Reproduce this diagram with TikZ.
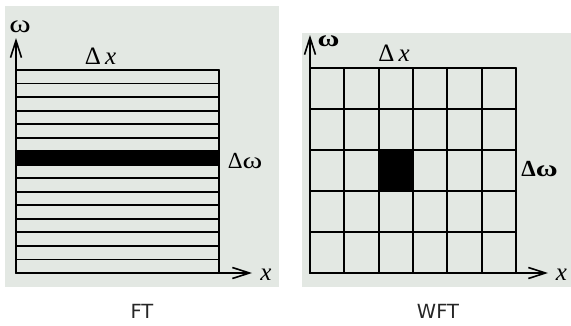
\documentclass[tikz,border=0pt]{standalone}
\usepackage{fontspec}
\setmainfont{Liberation Serif}
\newfontfamily\capfont{DejaVu Sans}
\usetikzlibrary{arrows.meta}
\definecolor{panelgray}{RGB}{227,232,227}
\newcommand\wideomega{\scalebox{1.3}[1]{ω}}
\begin{document}
\begin{tikzpicture}[x=1pt,y=-1pt,line cap=round,line join=round,font=\fontsize{23}{25}\selectfont,
	axis/.style={line width=1.6pt,-{Straight Barb[length=17pt,width=11pt]}},
	gridline/.style={line width=1.9pt},
	lbl/.style={anchor=base,inner sep=0pt},
	biglbl/.style={lbl,font=\fontsize{25}{27}\selectfont},
	caption/.style={anchor=base,inner sep=0pt,text=black!85,font=\capfont\fontsize{19.5}{21}\selectfont}]
	\useasboundingbox (0,0) rectangle (571,325);
	% panels
	\fill[panelgray] (5,6) rectangle (279,287);
	\fill[panelgray] (302,33) rectangle (571,287);
	% FT: strips
	\def\h{203/15}
	\fill (16,{70+6*\h}) rectangle (219,{70+7*\h});
	\foreach \i in{0,...,15}{\draw[gridline] (16,{70+\i*\h}) -- (219,{70+\i*\h});}
	\draw[gridline] (219,70) -- (219,273);
	\coordinate (fto) at (16,273);
	\coordinate (ftw) at (16,38);
	\coordinate (ftx) at (252,273);
	\draw[axis] (fto) -- (ftw);
	\draw[axis] (fto) -- (ftx);
	\node[biglbl] (ftwlbl) at (20,32) {\wideomega};
	\node[biglbl] (ftdx) at (100.5,64) {Δ\,\textit{x}};
	\node[lbl] (ftdw) at (245,168) {Δ\wideomega};
	\node[biglbl] (ftxlbl) at (266,280) {\textit{x}};
	% WFT: tiles
	\def\w{206/6}
	\fill (310+2*\w,150) rectangle (310+3*\w,191);
	\foreach \i in{0,...,6}{\draw[gridline] ({310+\i*\w},68) -- ({310+\i*\w},273);}
	\foreach \j in{0,...,5}{\draw[gridline] (310,68+\j*41) -- (516,68+\j*41);}
	\coordinate (wfto) at (310,273);
	\coordinate (wftw) at (310,35);
	\coordinate (wftx) at (548,273);
	\draw[axis] (wfto) -- (wftw);
	\draw[axis] (wfto) -- (wftx);
	\node[lbl] (wftwlbl) at (328.5,46.5) {\bfseries\wideomega};
	\node[biglbl] (wftdx) at (394,61.5) {Δ\,\textit{x}};
	\node[lbl] (wftdw) at (539.5,176.5) {\bfseries Δ\wideomega};
	\node[biglbl] (wftxlbl) at (561.5,280) {\textit{x}};
	% captions
	\node[caption] (ft) at (142,318) {FT};
	\node[caption] (wft) at (438,318) {WFT};
\end{tikzpicture}
\end{document}
